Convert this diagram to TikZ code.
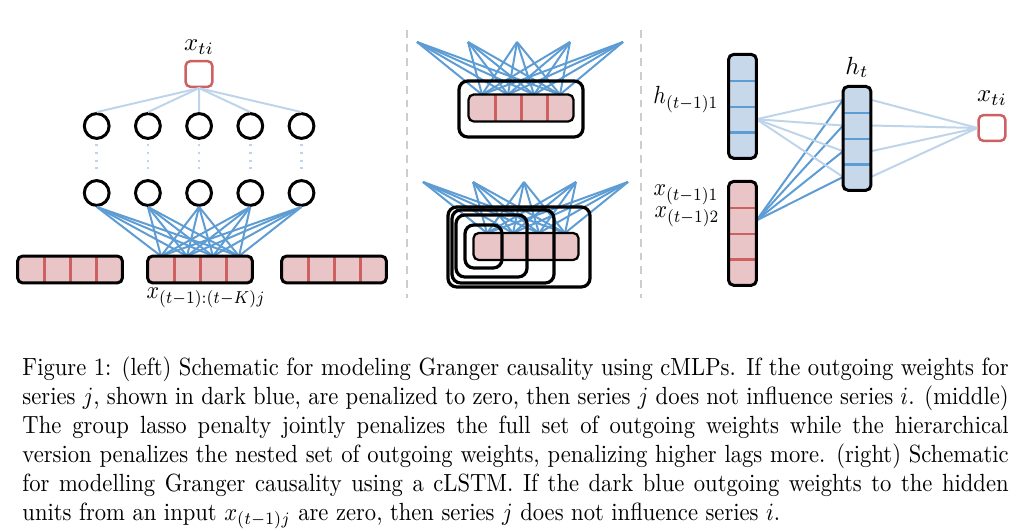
\documentclass[tikz,border=0pt]{standalone}
\usetikzlibrary{positioning}

\definecolor{cellpink}{RGB}{234,197,199}
\definecolor{cellred}{RGB}{206,96,96}
\definecolor{cellblue}{RGB}{199,216,234}
\definecolor{wdark}{RGB}{94,156,212}
\definecolor{wlight}{RGB}{190,212,234}
\definecolor{sepgray}{RGB}{205,205,205}

\tikzset{
  neuron/.style={circle, draw=black, line width=1.2pt, minimum size=10pt, inner sep=0pt},
  outsq/.style={rectangle, draw=cellred, line width=1pt, rounded corners=2pt,
    minimum width=10.8pt, minimum height=10.4pt, inner sep=0pt},
  pinkcell/.style={rectangle, fill=cellpink, minimum width=10.4pt, minimum height=10.4pt, inner sep=0pt},
  pinkvcell/.style={pinkcell, minimum width=10.8pt, minimum height=10.3pt},
  bluecell/.style={rectangle, fill=cellblue, minimum width=10.8pt, minimum height=10.3pt, inner sep=0pt},
  baredge/.style={draw=black, line width=1.2pt, rounded corners=2pt},
  thinedge/.style={draw=black, line width=0.9pt, rounded corners=2pt},
  groupbox/.style={draw=black, line width=1.3pt, rounded corners=3.5pt},
  reddiv/.style={draw=cellred, line width=0.9pt},
  bluediv/.style={draw=wdark, line width=0.9pt},
  darkw/.style={draw=wdark, line width=0.8pt},
  lightw/.style={draw=wlight, line width=0.8pt},
  dotw/.style={draw=wlight, line width=1pt, dash pattern=on 0.8pt off 2.4pt},
  sep/.style={draw=sepgray, line width=1pt, dash pattern=on 3.2pt off 2.4pt},
  lab/.style={inner sep=0pt},
}
\newcommand{\narrow}[1]{\scalebox{0.88}[1]{#1}}

\begin{document}
\begin{tikzpicture}[x=0.4026pt, y=-0.4026pt]
  \useasboundingbox (0,0) rectangle (1024,531);

  % Left: cMLP
  \node[outsq] (xo) at (199,74) {};
  \node[lab, above=2pt of xo] (xolab) {$x_{ti}$};
  \foreach \i in {1,...,5} {
    \node[neuron] (top\i) at ({45.5+51.2*\i},126) {};
    \node[neuron] (bot\i) at ({45.5+51.2*\i},193) {};
  }
  \foreach \i in {1,...,4} {
    \node[pinkcell] (L\i) at ({5+26*\i},269.5) {};
    \node[pinkcell] (M\i) at ({135+26*\i},269.5) {};
    \node[pinkcell] (R\i) at ({269+26*\i},269.5) {};
  }
  \node[lab, anchor=base] (lagl) at (206,299) {\narrow{$x_{(t-1):(t-K)j}$}};

  % weights
  \foreach \i in {1,...,5} {
    \draw[lightw] (xo.south) -- (top\i.north);
    \draw[dotw, shorten <=1.5pt, shorten >=1.5pt] (top\i.south) -- (bot\i.north);
    \foreach \j in {1,...,4}
      \draw[darkw] (bot\i.south) -- (M\j.north);
  }

  % input bars
  \foreach \i in {1,...,3} {
    \draw[reddiv] (L\i.north east) -- (L\i.south east);
    \draw[reddiv] (M\i.north east) -- (M\i.south east);
    \draw[reddiv] (R\i.north east) -- (R\i.south east);
  }
  \draw[baredge] (L1.north west) rectangle (L4.south east);
  \draw[baredge] (M1.north west) rectangle (M4.south east);
  \draw[baredge] (R1.north west) rectangle (R4.south east);

  % separators
  \draw[sep] (407,30) -- (407,298);
  \draw[sep] (641,30) -- (641,298);

  % Middle: group lasso
  \foreach \i in {1,...,4}
    \node[pinkcell] (G\i) at ({456+26*\i},108) {};
  \foreach \k/\x in {1/417,2/468,3/517,4/570,5/623}
    \coordinate (gt\k) at (\x,42);
  \foreach \k in {1,...,5}
    \foreach \j in {1,...,4}
      \draw[darkw] (gt\k) -- (G\j.north);
  \foreach \i in {1,...,3}
    \draw[reddiv] (G\i.north east) -- (G\i.south east);
  \draw[thinedge] (G1.north west) rectangle (G4.south east);
  \draw[groupbox] (459,81) rectangle (583,137);

  % Middle: hierarchical
  \foreach \i in {1,...,4}
    \node[pinkcell] (H\i) at ({461+26*\i},246.5) {};
  \foreach \k/\x in {1/423,2/473,3/524,4/576,5/628}
    \coordinate (hb\k) at (\x,182);
  \foreach \k in {1,...,5}
    \foreach \j in {1,...,4}
      \draw[darkw] (hb\k) -- (H\j.north);
  \draw[thinedge] (H1.north west) rectangle (H4.south east);
  \draw[groupbox] (465,225) rectangle (502,268);
  \draw[groupbox] (456,215) rectangle (527,277);
  \draw[groupbox] (452,210) rectangle (554,283);
  \draw[groupbox] (448,207) rectangle (590,287);

  % Right: cLSTM
  \foreach \i in {1,...,4} {
    \node[bluecell] (hp\i) at (742.5,{42+25.75*\i}) {};
    \node[pinkvcell] (xp\i) at (742.5,{169+25.75*\i}) {};
    \node[bluecell] (ht\i) at (857,{74+25.75*\i}) {};
  }
  \node[outsq] (xr) at (992,128) {};
  \node[lab, above=3.3pt of xr] (xrlab) {$x_{ti}$};
  \node[lab, above=3.3pt of ht1] (htlab) {$h_t$};
  \node[lab, anchor=base east] (hplab) at (719,104) {\narrow{$h_{(t-1)1}$}};
  \node[lab, anchor=base east] (xplab1) at (719,196) {\narrow{$x_{(t-1)1}$}};
  \node[lab, anchor=base east] (xplab2) at (720,218) {\narrow{$x_{(t-1)2}$}};

  \foreach \j in {1,...,4} {
    \draw[lightw] (hp3.east) -- (ht\j.west);
    \draw[darkw] (xp2.east) -- (ht\j.west);
    \draw[lightw] (ht\j.east) -- (xr.west);
  }
  \foreach \i in {1,...,3} {
    \draw[bluediv] (hp\i.south west) -- (hp\i.south east);
    \draw[reddiv] (xp\i.south west) -- (xp\i.south east);
    \draw[bluediv] (ht\i.south west) -- (ht\i.south east);
  }
  \draw[baredge] (hp1.north west) rectangle (hp4.south east);
  \draw[baredge] (xp1.north west) rectangle (xp4.south east);
  \draw[baredge] (ht1.north west) rectangle (ht4.south east);

  % caption
  \node[anchor=north west, inner sep=0pt] (cap) at (22,356) {%
    \scalebox{0.91}[1]{\parbox[t]{436.3pt}{\fontsize{10}{11.7}\selectfont
    Figure 1: (left) Schematic for modeling Granger causality using cMLPs. If the outgoing weights for\linebreak
    series $j$, shown in dark blue, are penalized to zero, then series $j$ does not influence series $i$. (middle)\linebreak
    The group lasso penalty jointly penalizes the full set of outgoing weights while the hierarchical\linebreak
    version penalizes the nested set of outgoing weights, penalizing higher lags more. (right) Schematic\linebreak
    for modelling Granger causality using a cLSTM. If the dark blue outgoing weights to the hidden\linebreak
    units from an input $x_{(t-1)j}$ are zero, then series $j$ does not influence series $i$.}}};
\end{tikzpicture}
\end{document}
